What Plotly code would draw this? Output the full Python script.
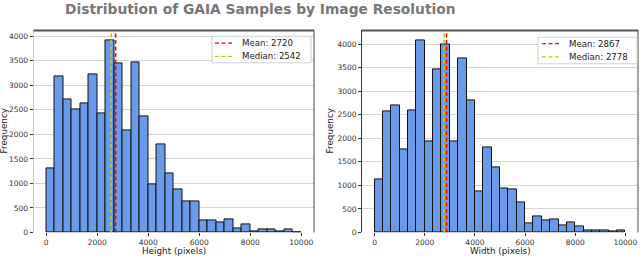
import numpy as np
import plotly.graph_objects as go

# ---- data ----
BIN_MIN, BIN_MAX, N_BINS = 0, 10000, 30
height_counts = [1310, 3190, 2710, 2510, 2640, 3225, 2435, 3920, 3450, 2085,
                 3460, 2375, 990, 1795, 1195, 875, 630, 630, 255, 255,
                 205, 260, 88, 155, 20, 67, 67, 22, 65, 10]
width_counts = [1117, 2576, 2695, 1759, 2597, 4070, 1934, 3455, 4000, 1934,
                3693, 2813, 866, 1815, 1375, 942, 908, 643, 197, 350,
                260, 281, 140, 209, 119, 50, 50, 35, 14, 35]
height_mean, height_median = 2720, 2542
width_mean, width_median = 2867, 2778
y_ticks = [0, 500, 1000, 1500, 2000, 2500, 3000, 3500, 4000]
x_ticks = [0, 2000, 4000, 6000, 8000, 10000]
x_tick_labels = ["0", "2000", "4000", "6000", "8000", "10000"]

edges = np.linspace(BIN_MIN, BIN_MAX, N_BINS + 1)
centers = (edges[:-1] + edges[1:]) / 2
bw = edges[1] - edges[0]

W, H = 640, 263
def px(x): return x / W
def py(y): return 1 - y / H

BAR = "#6a9bea"
RED = "#ff0000"
YEL = "#c8c800"
FONT = "DejaVu Sans"
DASH = "4px,2.5px"

fig = go.Figure()

panels = [
    dict(counts=height_counts, mean=height_mean, median=height_median,
         xa="x", ya="y", xdom=[px(33.5), px(314)], ymax=4120,
         xlabel="Height (pixels)", ylabx=4, spine="#c8c8c8",
         box=(212, 311, 37, 64), line_x=(215, 232), text_x=241, rows=(44, 57.5)),
    dict(counts=width_counts, mean=width_mean, median=width_median,
         xa="x2", ya="y2", xdom=[px(362), px(638)], ymax=4290,
         xlabel="Width (pixels)", ylabx=330, spine="#333333",
         box=(538, 637, 38, 65), line_x=(542, 559), text_x=568, rows=(44.5, 58)),
]
ydom = [py(237), py(31)]

for i, p in enumerate(panels):
    fig.add_trace(go.Bar(x=centers, y=p["counts"], width=bw,
                         marker=dict(color=BAR, line=dict(color="#111111", width=1)),
                         xaxis=p["xa"], yaxis=p["ya"], showlegend=False))
    fig.add_trace(go.Scatter(x=[p["mean"], p["mean"]], y=[0, p["ymax"]], mode="lines",
                             line=dict(color=RED, width=1.6, dash=DASH),
                             name=f"Mean: {p['mean']}", xaxis=p["xa"], yaxis=p["ya"],
                             showlegend=False))
    fig.add_trace(go.Scatter(x=[p["median"], p["median"]], y=[0, p["ymax"]], mode="lines",
                             line=dict(color=YEL, width=1.6, dash=DASH),
                             name=f"Median: {p['median']}", xaxis=p["xa"], yaxis=p["ya"],
                             showlegend=False))
    sfx = "" if i == 0 else "2"
    fig.update_layout(**{
        "xaxis" + sfx: dict(domain=p["xdom"], range=[-500, 10500], tickvals=x_ticks,
                            ticktext=x_tick_labels,
                            ticks="outside", ticklen=3, tickcolor="#333", showgrid=False,
                            zeroline=False, showline=False,
                            tickfont=dict(size=7.5, color="#333", family=FONT),
                            anchor="y" + sfx),
        "yaxis" + sfx: dict(domain=ydom, range=[0, p["ymax"]], tickvals=y_ticks,
                            ticks="outside", ticklen=3, tickcolor="#333",
                            showgrid=True, gridcolor="#d6d6d6", gridwidth=0.8,
                            zeroline=False, showline=True, linecolor=p["spine"], linewidth=1,
                            tickfont=dict(size=7.5, color="#333", family=FONT),
                            anchor="x" + sfx),
    })
    # top and right spines
    x0, x1 = p["xdom"]
    fig.add_shape(type="line", xref="paper", yref="paper", x0=x0, x1=x1, y0=ydom[1], y1=ydom[1],
                  line=dict(color="#555555", width=2))
    fig.add_shape(type="line", xref="paper", yref="paper", x0=x1, x1=x1, y0=ydom[0], y1=ydom[1],
                  line=dict(color="#444444", width=1))
    # legend box (manual)
    bx0, bx1, by0, by1 = p["box"]
    fig.add_shape(type="rect", xref="paper", yref="paper", x0=px(bx0), x1=px(bx1),
                  y0=py(by1), y1=py(by0), fillcolor="rgba(255,255,255,0.9)",
                  line=dict(color="#d0d0d0", width=1))
    for ry, col, label in [(p["rows"][0], RED, f"Mean: {p['mean']}"),
                           (p["rows"][1], YEL, f"Median: {p['median']}")]:
        fig.add_shape(type="line", xref="paper", yref="paper",
                      x0=px(p["line_x"][0]), x1=px(p["line_x"][1]), y0=py(ry), y1=py(ry),
                      line=dict(color=col, width=1.4, dash=DASH))
        fig.add_annotation(text=label, xref="paper", yref="paper", x=px(p["text_x"]), y=py(ry),
                           xanchor="left", yanchor="middle", showarrow=False, borderpad=0,
                           font=dict(size=8.6, color="#222", family=FONT))
    # axis labels
    fig.add_annotation(text=p["xlabel"], xref="paper", yref="paper", x=(x0 + x1) / 2, y=py(256),
                       xanchor="center", yanchor="middle", showarrow=False, borderpad=0,
                       font=dict(size=8.8, color="#222", family=FONT))
    fig.add_annotation(text="Frequency", xref="paper", yref="paper", x=px(p["ylabx"]), y=py(134),
                       xanchor="center", yanchor="middle", showarrow=False, textangle=-90,
                       borderpad=0, font=dict(size=8.8, color="#222", family=FONT))

fig.add_annotation(text="<b>Distribution of GAIA Samples by Image Resolution</b>",
                   xref="paper", yref="paper", x=px(260), y=py(9), xanchor="center",
                   yanchor="middle", showarrow=False,
                   font=dict(size=13.8, color="#777777", family=FONT))

fig.update_layout(width=W, height=H, margin=dict(l=0, r=0, t=0, b=0),
                  paper_bgcolor="white", plot_bgcolor="white", bargap=0, showlegend=False)

fig.write_html("out.html", config={"displayModeBar": False},
               post_script="document.body.style.margin='0';document.body.style.overflow='hidden';")
